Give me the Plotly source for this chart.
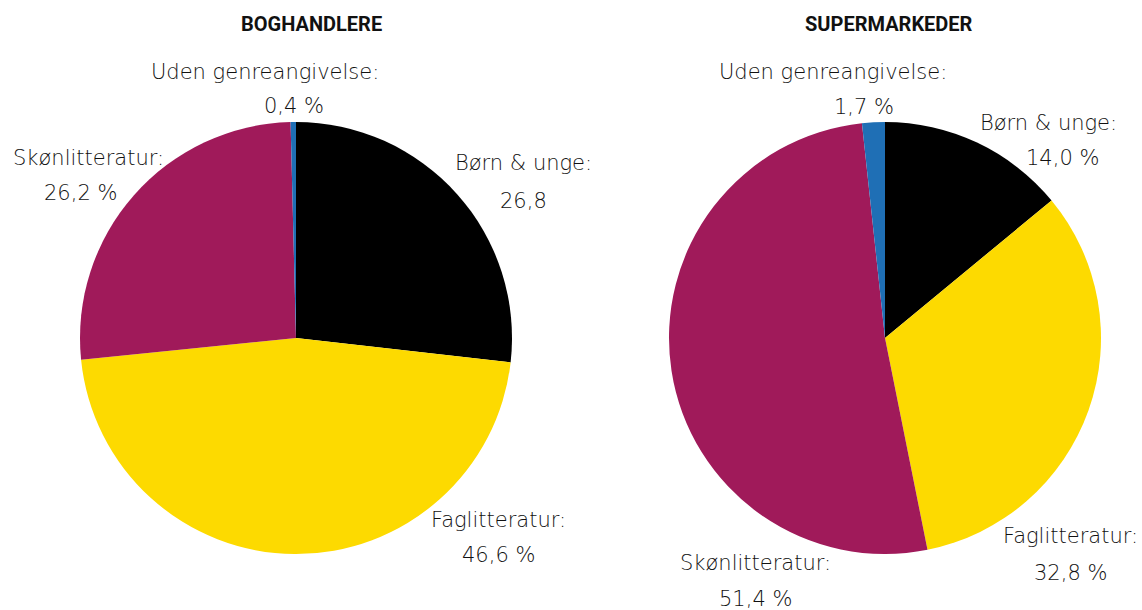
import plotly.graph_objects as go

W, H = 1142, 610

categories = ["Børn & unge", "Faglitteratur", "Skønlitteratur", "Uden genreangivelse"]
colors = ["#000000", "#FDDA00", "#A01A5A", "#1F6FB5"]

values_bog = [26.8, 46.6, 26.2, 0.4]
values_super = [14.0, 32.8, 51.4, 1.7]

value_text_bog = ["26,8", "46,6 %", "26,2 %", "0,4 %"]
value_text_super = ["14,0 %", "32,8 %", "51,4 %", "1,7 %"]

titles = ["BOGHANDLERE", "SUPERMARKEDER"]

# label positions in pixels: (name_x, name_y, value_x, value_y)
pos_bog = [(523, 163, 523, 201), (498, 520, 498, 555), (88, 158, 80, 193), (265, 72, 294, 106)]
pos_super = [(1048, 123, 1062, 158), (1070, 536, 1070, 573), (755, 563, 755, 599), (833, 72, 864, 107)]

R = 216
centers = [(296, 338), (885, 338)]

fig = go.Figure()
for (cx, cy), vals in zip(centers, [values_bog, values_super]):
    fig.add_trace(go.Pie(
        labels=categories, values=vals, sort=False, direction="clockwise", rotation=0,
        marker=dict(colors=colors, line=dict(width=0)),
        textinfo="none", hoverinfo="label+value", showlegend=False,
        domain=dict(x=[(cx - R) / W, (cx + R) / W], y=[(H - cy - R) / H, (H - cy + R) / H]),
    ))

annotations = []
font_lbl = dict(family="DejaVu Sans", size=21, color="#111111", weight=200)
for pos, vtexts in [(pos_bog, value_text_bog), (pos_super, value_text_super)]:
    for cat, (nx, ny, vx, vy), vt in zip(categories, pos, vtexts):
        annotations.append(dict(x=nx / W, y=1 - ny / H, xref="paper", yref="paper", text=cat + ":",
                                showarrow=False, xanchor="center", yanchor="middle", font=font_lbl))
        annotations.append(dict(x=vx / W, y=1 - vy / H, xref="paper", yref="paper", text=vt,
                                showarrow=False, xanchor="center", yanchor="middle", font=font_lbl))

for t, tx in zip(titles, [311, 889]):
    annotations.append(dict(x=tx / W, y=1 - 24 / H, xref="paper", yref="paper", text="<b>" + t + "</b>",
                            showarrow=False, xanchor="center", yanchor="middle",
                            font=dict(family="Roboto", size=20, color="#111111")))

fig.update_layout(
    width=W, height=H, margin=dict(l=0, r=0, t=0, b=0),
    paper_bgcolor="white", plot_bgcolor="white",
    annotations=annotations,
)

fig.write_html("out.html", config={"displayModeBar": False},
               post_script="document.body.style.margin='0';document.body.style.overflow='hidden';")
